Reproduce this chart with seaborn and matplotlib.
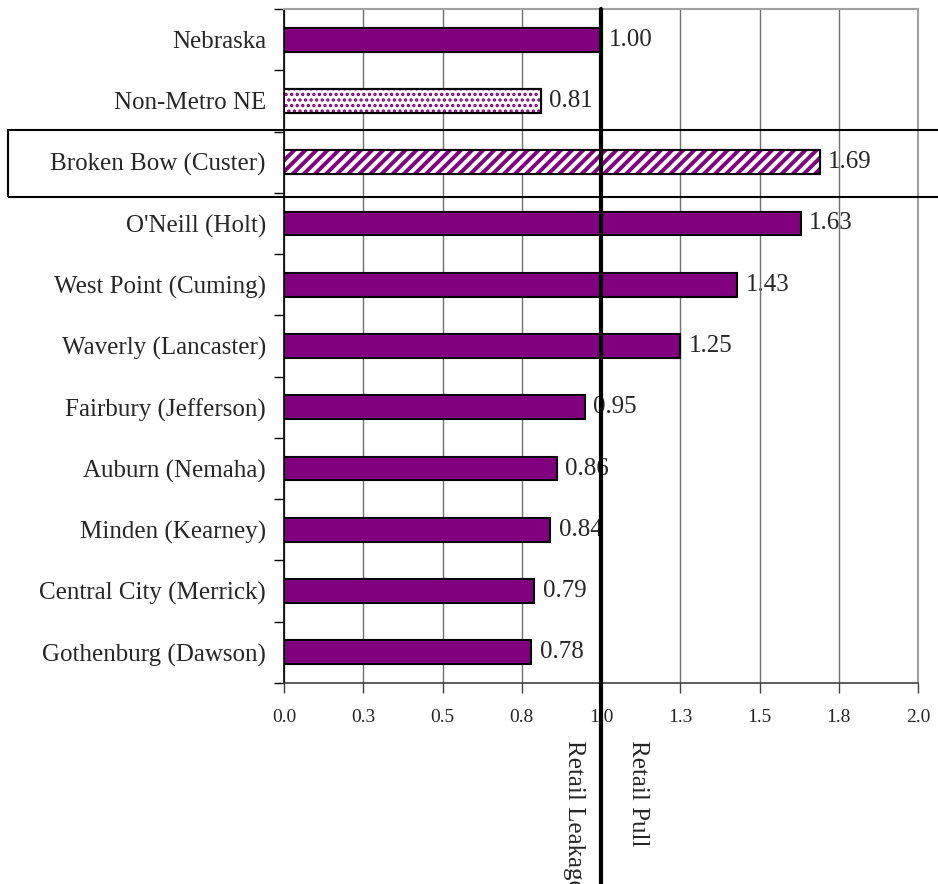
import numpy as np
import pandas as pd
import matplotlib.pyplot as plt
import seaborn as sns
from matplotlib.patches import Rectangle

# data
places = ["Nebraska", "Non-Metro NE", "Broken Bow (Custer)", "O'Neill (Holt)",
          "West Point (Cuming)", "Waverly (Lancaster)", "Fairbury (Jefferson)",
          "Auburn (Nemaha)", "Minden (Kearney)", "Central City (Merrick)",
          "Gothenburg (Dawson)"]
pull_factor = [1.00, 0.81, 1.69, 1.63, 1.43, 1.25, 0.95, 0.86, 0.84, 0.79, 0.78]
x_ticks = [0.0, 0.25, 0.5, 0.75, 1.0, 1.25, 1.5, 1.75, 2.0]
x_tick_labels = ["0.0", "0.3", "0.5", "0.8", "1.0", "1.3", "1.5", "1.8", "2.0"]

purple = "#800080"
bar_h = 0.39

sns.set_style("white")
plt.rcParams["font.family"] = ["Liberation Serif", "DejaVu Serif"]

fig = plt.figure(figsize=(9.38, 8.84), dpi=100)
ax = fig.add_axes([284 / 938, 1 - 683 / 884, (918 - 284) / 938, (683 - 9) / 884])

df = pd.DataFrame({"place": places, "pull": pull_factor})
sns.barplot(data=df, y="place", x="pull", color=purple, saturation=1,
            width=bar_h, edgecolor="black", linewidth=1.5, ax=ax, zorder=2)

# patterned bars: Non-Metro NE (dots) and Broken Bow (stripes)
bars = ax.containers[0]
for i, hatch, hlw in [(1, "...", 1.6), (2, "///", 2.8)]:
    with plt.rc_context({"hatch.linewidth": hlw}):
        ax.barh(i, pull_factor[i], height=bar_h, color="white", edgecolor=purple,
                hatch=hatch, linewidth=0, zorder=2.1)
    ax.barh(i, pull_factor[i], height=bar_h, fill=False, edgecolor="black",
            linewidth=1.5, zorder=2.2)

# value labels
labels = ax.bar_label(bars, fmt="%.2f", padding=6, fontsize=18)
for t in labels:
    t.set_zorder(0.4)

# axes styling
ax.set_xlim(0, 2)
ax.set_ylim(10.5, -0.5)
ax.set_xticks(x_ticks, x_tick_labels)
ax.set_yticks(np.arange(-0.5, 11, 1), minor=True)
ax.set_xlabel("")
ax.set_ylabel("")
ax.tick_params(axis="x", bottom=True, length=7, width=1, color="#404040",
               pad=12, labelsize=14)
ax.tick_params(axis="y", which="major", left=False, length=0, pad=13, labelsize=18)
ax.tick_params(axis="y", which="minor", left=True, length=7, width=1, color="black")
ax.set_axisbelow(True)
ax.grid(axis="x", color="#707070", linewidth=1)
ax.grid(axis="y", visible=False)
ax.spines["left"].set_color("black")
ax.spines["left"].set_linewidth(1.2)
ax.spines["bottom"].set_color("#404040")
ax.spines["bottom"].set_linewidth(1.2)
for s in ["top", "right"]:
    ax.spines[s].set_color("#a0a0a0")
    ax.spines[s].set_linewidth(1.5)

# dividing line at 1.0 with leakage / pull annotations
ax.axvline(1.0, ymin=-0.35, ymax=1, color="black", linewidth=3, clip_on=False, zorder=5)
ax.annotate("Retail Leakage", xy=(1.0, 0), xycoords=("data", "axes fraction"),
            xytext=(-27, -57), textcoords="offset pixels", rotation=270,
            ha="center", va="top", fontsize=18, annotation_clip=False)
ax.annotate("Retail Pull", xy=(1.0, 0), xycoords=("data", "axes fraction"),
            xytext=(37, -57), textcoords="offset pixels", rotation=270,
            ha="center", va="top", fontsize=18, annotation_clip=False)

# highlight box around Broken Bow
fig.add_artist(Rectangle((8 / 938, 1 - 197 / 884), 935 / 938, 67 / 884,
                         transform=fig.transFigure, fill=False,
                         edgecolor="black", linewidth=1.5, zorder=10))

fig.savefig("out.png", dpi=100)
